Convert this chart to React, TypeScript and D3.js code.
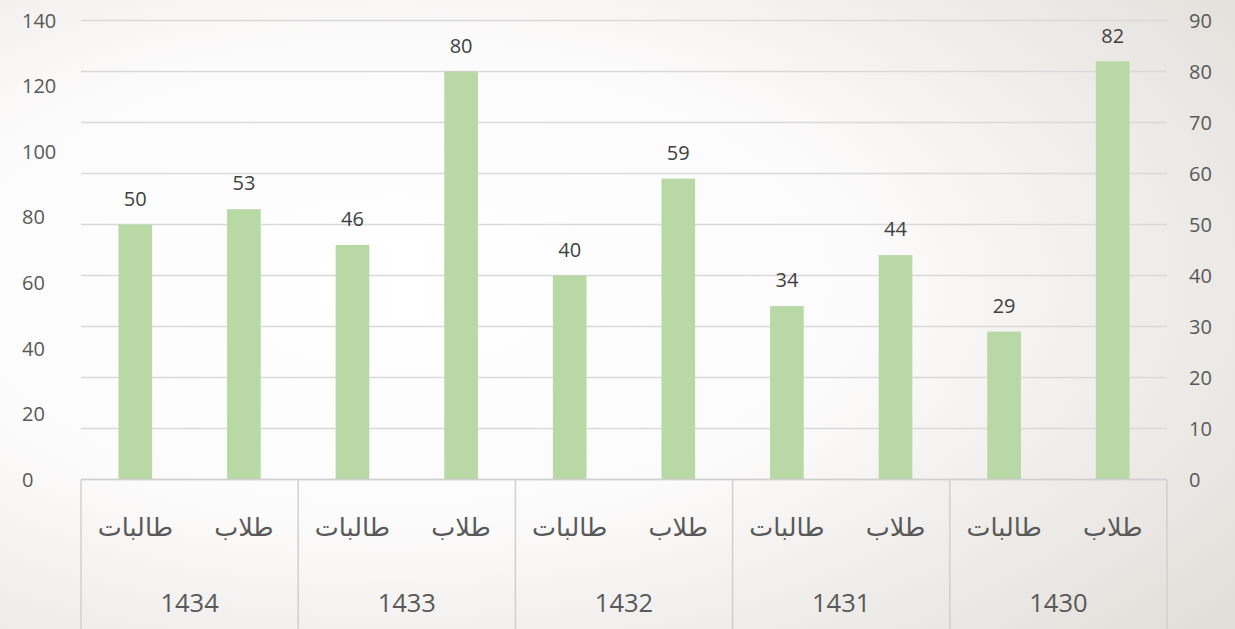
import React from "react";
import * as d3 from "d3";

const years = ["1434", "1433", "1432", "1431", "1430"];
const subCategories = ["طالبات", "طلاب"];
const femaleValues = [50, 46, 40, 34, 29];
const maleValues = [53, 80, 59, 44, 82];
const leftTicks = [0, 20, 40, 60, 80, 100, 120, 140];
const rightTicks = [0, 10, 20, 30, 40, 50, 60, 70, 80, 90];

const W = 1235;
const H = 629;
const plotLeft = 81;
const plotRight = 1167;
const plotTop = 20.5;
const plotBottom = 479.5;

export default function App() {
  const yRight = d3.scaleLinear().domain([0, 90]).range([plotBottom, plotTop]);
  const yLeft = d3.scaleLinear().domain([0, 140]).range([plotBottom, plotTop]);
  const xGroup = d3.scaleBand().domain(years).range([plotLeft, plotRight]).paddingInner(0).paddingOuter(0);
  const xSub = d3.scaleBand().domain(subCategories).range([0, xGroup.bandwidth()]).paddingInner(0.69).paddingOuter(0.345);

  const bars: { year: string; sub: string; v: number }[] = [];
  years.forEach((y, i) => {
    bars.push({ year: y, sub: subCategories[0], v: femaleValues[i] });
    bars.push({ year: y, sub: subCategories[1], v: maleValues[i] });
  });

  const numFont = "'Open Sans', 'Liberation Sans', sans-serif";
  const arFont = "'DejaVu Sans', 'Noto Sans', sans-serif";

  return (
    <svg width={W} height={H} style={{ position: "absolute", left: 0, top: 0, display: "block" }}>
      <defs>
        <radialGradient id="bg" cx="0.32" cy="0.45" r="0.85">
          <stop offset="0" stopColor="#ffffff" />
          <stop offset="0.45" stopColor="#fcfbfb" />
          <stop offset="1" stopColor="#e2dfda" />
        </radialGradient>
      </defs>
      <rect x={0} y={0} width={W} height={H} fill="url(#bg)" />
      {rightTicks.map((t) => (
        <line key={"g" + t} x1={plotLeft} x2={plotRight} y1={yRight(t)} y2={yRight(t)} stroke="#d9d9d9" strokeWidth={1.3} />
      ))}
      {leftTicks.map((t) => (
        <text key={"l" + t} x={22} y={yLeft(t)} dy="0.36em" fontFamily={numFont} fontSize={20} fill="#595959">
          {t}
        </text>
      ))}
      {rightTicks.map((t) => (
        <text key={"r" + t} x={1189} y={yRight(t)} dy="0.36em" fontFamily={numFont} fontSize={20} fill="#595959">
          {t}
        </text>
      ))}
      {bars.map((b) => {
        const x = (xGroup(b.year) as number) + (xSub(b.sub) as number);
        return (
          <g key={b.year + b.sub}>
            <rect x={x} y={yRight(b.v)} width={xSub.bandwidth()} height={plotBottom - yRight(b.v)} fill="#b8d9a6" />
            <text x={x + xSub.bandwidth() / 2} y={yRight(b.v) - 26} dy="0.36em" textAnchor="middle" fontFamily={numFont} fontSize={20} fill="#404040">
              {b.v}
            </text>
            <text x={x + xSub.bandwidth() / 2} y={527} dy="0.36em" textAnchor="middle" fontFamily={arFont} fontSize={25.5} fill="#595959" direction="rtl">
              {b.sub}
            </text>
          </g>
        );
      })}
      <line x1={plotLeft} x2={plotRight} y1={plotBottom} y2={plotBottom} stroke="#d0d0d0" strokeWidth={1.5} />
      {years.map((y) => (
        <text key={"y" + y} x={(xGroup(y) as number) + xGroup.bandwidth() / 2} y={603} dy="0.36em" textAnchor="middle" fontFamily={numFont} fontSize={25.5} fill="#595959">
          {y}
        </text>
      ))}
      {[...years.map((y) => xGroup(y) as number), plotRight].map((x, i) => (
        <line key={"s" + i} x1={x} x2={x} y1={plotBottom} y2={H} stroke="#d0d0d0" strokeWidth={1.5} />
      ))}
    </svg>
  );
}
